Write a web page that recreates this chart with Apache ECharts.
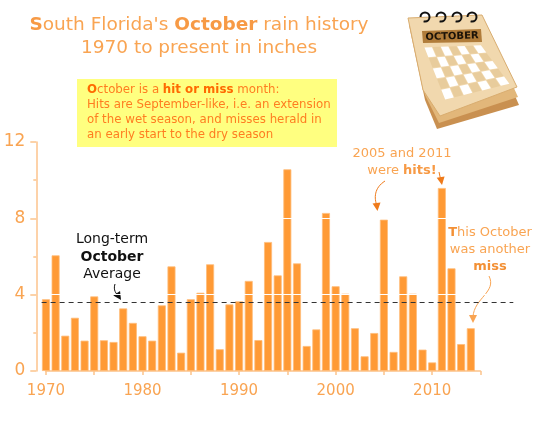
<!DOCTYPE html>
<html>
<head>
<meta charset="utf-8">
<script src="https://cdn.jsdelivr.net/npm/echarts@6.0.0/dist/echarts.min.js"></script>
<style>
  html, body { margin: 0; padding: 0; background: #fff; }
  #mainChart { width: 551px; height: 425px; }
</style>
</head>
<body>
<div id="mainChart"></div>
<script type="text/javascript">
// October rain, South Florida, inches
var years = [1970, 1971, 1972, 1973, 1974, 1975, 1976, 1977, 1978, 1979,
             1980, 1981, 1982, 1983, 1984, 1985, 1986, 1987, 1988, 1989,
             1990, 1991, 1992, 1993, 1994, 1995, 1996, 1997, 1998, 1999,
             2000, 2001, 2002, 2003, 2004, 2005, 2006, 2007, 2008, 2009,
             2010, 2011, 2012, 2013, 2014];
var rain = [3.76, 6.06, 1.85, 2.79, 1.59, 3.91, 1.61, 1.52, 3.28, 2.52,
            1.82, 1.59, 3.44, 5.48, 0.96, 3.76, 4.10, 5.59, 1.14, 3.49,
            3.65, 4.72, 1.62, 6.76, 5.01, 10.57, 5.64, 1.31, 2.18, 8.28,
            4.44, 4.05, 2.24, 0.77, 1.99, 7.93, 1.00, 4.96, 4.05, 1.12,
            0.45, 9.59, 5.38, 1.41, 2.24];
var average = 3.62;
var yTicks = [0, 4, 8, 12];
var xTicks = [1970, 1975, 1980, 1985, 1990, 1995, 2000, 2005, 2010, 2015];
var xLabels = [1970, 1980, 1990, 2000, 2010];

var FONT = 'DejaVu Sans';
var light = '#f9a452';
var axisCol = '#fcc38c';

var myChart = echarts.init(document.getElementById('mainChart'));

// little calendar picture in the corner
function calendar() {
    var els = [];
    els.push({ type: 'polygon', shape: { points: [[409,25],[482,21],[519,105],[437,129],[425,100]] }, style: { fill: '#c99050' } });
    els.push({ type: 'polygon', shape: { points: [[409,22],[482,18],[518,97],[439,123],[425,95]] }, style: { fill: '#e2b77a' } });
    els.push({ type: 'polygon', shape: { points: [[408,18],[482,15],[517,87],[440,116],[423,90]] }, style: { fill: '#f1d8ae', stroke: '#d9ad70', lineWidth: 1 } });
    // grid of days
    var tl = [424,47], tr = [481,45], br = [510,84], bl = [445,100];
    var cols = 7, rows = 5;
    function pt(u, v) {
        var top = [tl[0] + (tr[0]-tl[0])*u, tl[1] + (tr[1]-tl[1])*u];
        var bot = [bl[0] + (br[0]-bl[0])*u, bl[1] + (br[1]-bl[1])*u];
        return [top[0] + (bot[0]-top[0])*v, top[1] + (bot[1]-top[1])*v];
    }
    for (var r = 0; r < rows; r++) {
        for (var c = 0; c < cols; c++) {
            var g = 0.04;
            var u0 = (c + g)/cols, u1 = (c + 1 - g)/cols, v0 = (r + g)/rows, v1 = (r + 1 - g)/rows;
            els.push({ type: 'polygon', shape: { points: [pt(u0,v0), pt(u1,v0), pt(u1,v1), pt(u0,v1)] },
                style: { fill: (r + c) % 2 === 0 ? '#ffffff' : '#e8cc9c' } });
        }
    }
    els.push({ type: 'polygon', shape: { points: [[422,31],[481,29],[482,42],[423,43]] }, style: { fill: '#b07c3a' } });
    els.push({ type: 'text', x: 452, y: 36.5, rotation: 0.03,
        style: { text: 'OCTOBER', font: 'bold 10px ' + FONT, fill: '#1a1208', align: 'center', verticalAlign: 'middle' } });
    [425, 441, 457, 472].forEach(function (cx) {
        els.push({ type: 'arc', shape: { cx: cx, cy: 17, r: 4.5, startAngle: Math.PI, endAngle: Math.PI * 2.6 },
            style: { stroke: '#111', lineWidth: 2, fill: 'none' } });
    });
    return els;
}

function arrowHead(x, y, ang, col) {
    // ang: direction the tip points to (radians)
    var s = 4;
    return { type: 'polygon', shape: { points: [
        [x, y],
        [x - s*2*Math.cos(ang) + s*Math.sin(ang), y - s*2*Math.sin(ang) - s*Math.cos(ang)],
        [x - s*2*Math.cos(ang) - s*Math.sin(ang), y - s*2*Math.sin(ang) + s*Math.cos(ang)]
    ] }, style: { fill: col } };
}

var graphics = calendar().concat([
    { type: 'text', x: 199, y: 36.5,
      style: { text: '{b|S}{n|outh Florida\'s }{b|October}{n| rain history}\n{n|1970 to present in inches}',
        align: 'center', verticalAlign: 'middle',
        rich: { b: { fontFamily: FONT, fontSize: 18.5, fontWeight: 'bold', fill: '#f79a45', lineHeight: 23 },
                n: { fontFamily: FONT, fontSize: 18.5, fill: light, lineHeight: 23 } } } },
    { type: 'rect', shape: { x: 77, y: 79, width: 260, height: 68 }, style: { fill: '#ffff80' } },
    { type: 'text', x: 87, y: 82,
      style: { text: '{b|O}{n|ctober is a }{b|hit or miss}{n| month:}\n{n|Hits are September-like, i.e. an extension}\n{n|of the wet season, and misses herald in}\n{n|an early start to the dry season}',
        align: 'left', verticalAlign: 'top',
        rich: { b: { fontFamily: FONT, fontSize: 11.8, fontWeight: 'bold', fill: '#ff6a00', lineHeight: 15 },
                n: { fontFamily: FONT, fontSize: 11.8, fill: '#ff7d20', lineHeight: 15 } } } },
    { type: 'text', x: 112, y: 257,
      style: { text: '{n|Long-term}\n{b|October}\n{n|Average}', align: 'center', verticalAlign: 'middle',
        rich: { b: { fontFamily: FONT, fontSize: 14, fontWeight: 'bold', fill: '#111', lineHeight: 17.5 },
                n: { fontFamily: FONT, fontSize: 14, fill: '#111', lineHeight: 17.5 } } } },
    { type: 'bezierCurve', shape: { x1: 115, y1: 284, cpx1: 113, cpy1: 290, cpx2: 116, cpy2: 294, x2: 119, y2: 296 },
      style: { stroke: '#111', lineWidth: 1, fill: 'none' } },
    arrowHead(121, 300, 1.0, '#111'),
    { type: 'text', x: 402, y: 162.5,
      style: { text: '{n|2005 and 2011}\n{n|were }{b|hits!}', align: 'center', verticalAlign: 'middle',
        rich: { b: { fontFamily: FONT, fontSize: 13, fontWeight: 'bold', fill: '#f79a45', lineHeight: 17 },
                n: { fontFamily: FONT, fontSize: 13, fill: light, lineHeight: 17 } } } },
    { type: 'bezierCurve', shape: { x1: 385, y1: 181, cpx1: 374, cpy1: 188, cpx2: 374, cpy2: 198, x2: 377, y2: 206 },
      style: { stroke: '#ef7a1a', lineWidth: 1, fill: 'none' } },
    arrowHead(377.5, 211, 1.45, '#ef7a1a'),
    { type: 'line', shape: { x1: 439, y1: 172, x2: 441, y2: 181 }, style: { stroke: '#ef7a1a', lineWidth: 1 } },
    arrowHead(442, 185, 1.4, '#ef7a1a'),
    { type: 'text', x: 490, y: 250,
      style: { text: '{t|T}{n|his October}\n{n|was another}\n{b|miss}', align: 'center', verticalAlign: 'middle',
        rich: { t: { fontFamily: FONT, fontSize: 13, fontWeight: 'bold', fill: '#f39035', lineHeight: 17 },
                b: { fontFamily: FONT, fontSize: 13, fontWeight: 'bold', fill: '#f39035', lineHeight: 17 },
                n: { fontFamily: FONT, fontSize: 13, fill: light, lineHeight: 17 } } } },
    { type: 'bezierCurve', shape: { x1: 489, y1: 276, cpx1: 497, cpy1: 292, cpx2: 474, cpy2: 298, x2: 473, y2: 317 },
      style: { stroke: light, lineWidth: 1, fill: 'none' } },
    arrowHead(473, 323, Math.PI / 2, light)
]);

var options = {
    animation: false,
    backgroundColor: '#ffffff',
    textStyle: { fontFamily: FONT },
    grid: [
        { left: 36.3, top: 142, width: 477, height: 229 },
        { left: 45.96, top: 142, width: 434.5, height: 229 }
    ],
    xAxis: [
        { type: 'value', gridIndex: 0, min: 1969, max: 2018.4, show: false, splitLine: { show: false } },
        { type: 'value', gridIndex: 1, min: 1970, max: 2015, offset: 4,
          axisLine: { show: true, lineStyle: { color: axisCol, width: 1.5 } },
          axisTick: { show: true, customValues: xTicks, length: 4, lineStyle: { color: axisCol, width: 1.5 } },
          axisLabel: { customValues: xLabels, color: light, fontSize: 15, margin: 9, fontFamily: FONT,
                       formatter: function (v) { return String(v); } },
          splitLine: { show: false } }
    ],
    yAxis: [
        { type: 'value', gridIndex: 0, min: 0, max: 12, interval: 4,
          axisLine: { show: true, lineStyle: { color: axisCol, width: 1.5 } },
          axisTick: { show: true, length: 6, lineStyle: { color: axisCol, width: 1.5 } },
          minorTick: { show: true, splitNumber: 2, length: 3, lineStyle: { color: axisCol, width: 1.5 } },
          axisLabel: { color: light, fontSize: 17, margin: 11, fontFamily: FONT },
          splitLine: { show: false } },
        { type: 'value', gridIndex: 1, min: 0, max: 12, show: false, splitLine: { show: false } }
    ],
    series: [{
        type: 'bar',
        xAxisIndex: 0,
        yAxisIndex: 0,
        barWidth: 8,
        data: years.map(function (y, i) { return [y, rain[i]]; }),
        itemStyle: { color: '#ff9a35', borderColor: '#ffbd7a', borderWidth: 0.8 },
        markLine: {
            silent: true,
            symbol: 'none',
            label: { show: false },
            data: [
                [{ coord: [1969.5, 4], lineStyle: { color: '#fff', width: 1, type: 'solid' } }, { coord: [2016, 4] }],
                [{ coord: [1969.5, 8], lineStyle: { color: '#fff', width: 1, type: 'solid' } }, { coord: [2016, 8] }],
                [{ coord: [1969.55, average], lineStyle: { color: '#333', width: 1, type: [5, 4] } }, { coord: [2018.4, average] }]
            ]
        }
    }],
    graphic: graphics
};

myChart.setOption(options);
</script>
</body>
</html>
